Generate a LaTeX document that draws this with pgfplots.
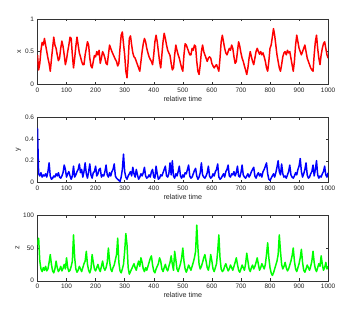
\documentclass[border=0pt]{standalone}
\usepackage{pgfplots}
\pgfplotsset{compat=1.18}
\usepackage{fontspec}
\setmainfont{Liberation Sans}
\begin{document}
\pgfplotsset{
  mstyle/.style={
    scale only axis, width=293pt, height=66pt,
    anchor=south west,
    xmin=0, xmax=1000,
    xtick={0,100,...,1000},
    tick align=inside,
    major tick length=2.5pt,
    axis line style={draw=black!80, line width=0.4pt},
    every tick/.style={draw=black!80, line width=0.4pt},
    tick label style={font=\fontsize{6.5}{7}\selectfont, text=black!85},
    label style={font=\fontsize{7.2}{8}\selectfont, text=black!85},
    /pgf/number format/assume math mode=true,
    /pgf/number format/1000 sep={},
    xlabel={relative time},
    xlabel style={yshift=3pt},
    ylabel style={yshift=-3pt},
    every axis plot/.style={line width=1.5pt, line join=round},
  }
}
\begin{tikzpicture}
\path[use as bounding box] (0,0) rectangle (345pt,313pt);
\begin{axis}[mstyle, at={(35pt,228pt)}, ymin=0, ymax=1, ytick={0,0.5,1}, ylabel={x}]
\addplot[red] table[row sep=\\, x expr=\coordindex*4, y=v] {
v\\
0.45\\0.22\\0.32\\0.52\\0.64\\0.6\\0.7\\0.6\\0.5\\0.4\\0.32\\0.2\\0.38\\0.55\\0.72\\0.6\\0.55\\0.45\\0.36\\0.4\\
0.55\\0.66\\0.58\\0.45\\0.3\\0.38\\0.5\\0.6\\0.72\\0.7\\0.45\\0.25\\0.4\\0.58\\0.72\\0.6\\0.48\\0.42\\0.35\\0.3\\
0.3\\0.45\\0.55\\0.65\\0.6\\0.4\\0.28\\0.25\\0.35\\0.44\\0.42\\0.5\\0.45\\0.52\\0.32\\0.4\\0.5\\0.46\\0.4\\0.32\\
0.3\\0.45\\0.6\\0.55\\0.5\\0.46\\0.42\\0.38\\0.35\\0.28\\0.32\\0.55\\0.75\\0.8\\0.62\\0.45\\0.2\\0.1\\0.35\\0.7\\
0.74\\0.6\\0.48\\0.42\\0.4\\0.35\\0.3\\0.25\\0.2\\0.35\\0.5\\0.62\\0.7\\0.65\\0.55\\0.48\\0.42\\0.38\\0.35\\0.3\\
0.45\\0.65\\0.75\\0.65\\0.5\\0.35\\0.25\\0.45\\0.65\\0.78\\0.7\\0.6\\0.52\\0.48\\0.44\\0.32\\0.22\\0.25\\0.45\\0.6\\
0.52\\0.45\\0.4\\0.32\\0.25\\0.2\\0.45\\0.62\\0.6\\0.55\\0.5\\0.45\\0.45\\0.55\\0.52\\0.6\\0.58\\0.35\\0.2\\0.15\\
0.3\\0.5\\0.6\\0.5\\0.45\\0.4\\0.35\\0.4\\0.42\\0.4\\0.32\\0.28\\0.25\\0.28\\0.3\\0.25\\0.2\\0.4\\0.65\\0.75\\
0.65\\0.55\\0.48\\0.45\\0.5\\0.55\\0.52\\0.6\\0.55\\0.42\\0.32\\0.35\\0.5\\0.65\\0.58\\0.48\\0.4\\0.35\\0.28\\0.22\\
0.15\\0.25\\0.4\\0.5\\0.42\\0.35\\0.3\\0.4\\0.5\\0.55\\0.5\\0.46\\0.5\\0.45\\0.48\\0.42\\0.35\\0.25\\0.2\\0.35\\
0.55\\0.6\\0.72\\0.85\\0.75\\0.6\\0.45\\0.35\\0.25\\0.2\\0.3\\0.42\\0.48\\0.5\\0.45\\0.52\\0.48\\0.5\\0.4\\0.3\\
0.2\\0.35\\0.6\\0.75\\0.65\\0.55\\0.5\\0.45\\0.5\\0.55\\0.6\\0.5\\0.4\\0.35\\0.3\\0.25\\0.22\\0.2\\0.45\\0.65\\
0.75\\0.55\\0.4\\0.3\\0.45\\0.55\\0.62\\0.65\\0.55\\0.45\\0.4\\
};
\end{axis}
\begin{axis}[mstyle, at={(35pt,129pt)}, ymin=0, ymax=0.6, ytick={0,0.2,0.4,0.6}, ylabel={y}]
\addplot[blue] table[row sep=\\, x expr=\coordindex*4, y=v] {
v\\
0.5\\0.08\\0.06\\0.09\\0.05\\0.07\\0.06\\0.08\\0.05\\0.1\\0.18\\0.06\\0.03\\0.04\\0.06\\0.05\\0.08\\0.06\\0.09\\0.05\\
0.04\\0.06\\0.09\\0.16\\0.12\\0.05\\0.08\\0.1\\0.06\\0.03\\0.06\\0.15\\0.05\\0.07\\0.1\\0.12\\0.17\\0.09\\0.12\\0.05\\
0.1\\0.18\\0.08\\0.04\\0.1\\0.17\\0.07\\0.04\\0.09\\0.1\\0.15\\0.06\\0.08\\0.12\\0.13\\0.05\\0.07\\0.06\\0.1\\0.16\\
0.07\\0.05\\0.09\\0.06\\0.1\\0.12\\0.17\\0.06\\0.04\\0.03\\0.02\\0.01\\0.05\\0.12\\0.26\\0.1\\0.05\\0.03\\0.06\\0.08\\
0.1\\0.06\\0.14\\0.08\\0.05\\0.12\\0.07\\0.03\\0.05\\0.08\\0.06\\0.09\\0.14\\0.06\\0.04\\0.05\\0.07\\0.05\\0.1\\0.12\\
0.05\\0.04\\0.15\\0.08\\0.03\\0.04\\0.07\\0.06\\0.09\\0.12\\0.15\\0.06\\0.05\\0.08\\0.18\\0.07\\0.2\\0.06\\0.04\\0.08\\
0.06\\0.1\\0.15\\0.06\\0.04\\0.07\\0.05\\0.09\\0.08\\0.12\\0.16\\0.06\\0.04\\0.05\\0.08\\0.11\\0.13\\0.06\\0.03\\0.05\\
0.09\\0.18\\0.07\\0.05\\0.04\\0.06\\0.09\\0.15\\0.06\\0.04\\0.05\\0.08\\0.06\\0.1\\0.12\\0.17\\0.05\\0.03\\0.04\\0.06\\
0.08\\0.05\\0.1\\0.12\\0.16\\0.06\\0.05\\0.08\\0.07\\0.1\\0.06\\0.09\\0.15\\0.06\\0.05\\0.09\\0.16\\0.07\\0.05\\0.04\\
0.06\\0.08\\0.05\\0.07\\0.1\\0.12\\0.14\\0.06\\0.04\\0.07\\0.09\\0.06\\0.08\\0.05\\0.1\\0.12\\0.15\\0.18\\0.08\\0.03\\
0.02\\0.04\\0.06\\0.08\\0.05\\0.09\\0.14\\0.2\\0.1\\0.07\\0.17\\0.08\\0.05\\0.06\\0.04\\0.07\\0.1\\0.16\\0.07\\0.05\\
0.04\\0.06\\0.09\\0.07\\0.12\\0.15\\0.22\\0.1\\0.05\\0.08\\0.12\\0.18\\0.07\\0.04\\0.05\\0.08\\0.1\\0.16\\0.06\\0.12\\
0.2\\0.07\\0.04\\0.06\\0.05\\0.08\\0.1\\0.15\\0.07\\0.05\\0.09\\
};
\end{axis}
\begin{axis}[mstyle, at={(35pt,30pt)}, ymin=0, ymax=100, ytick={0,50,100}, ylabel={z}]
\addplot[green] table[row sep=\\, x expr=\coordindex*4, y=v] {
v\\
55\\65\\30\\18\\14\\20\\16\\22\\15\\18\\28\\40\\25\\15\\12\\18\\30\\20\\14\\17\\
22\\15\\19\\25\\18\\35\\20\\14\\16\\22\\30\\70\\35\\18\\13\\16\\22\\18\\14\\20\\
26\\30\\45\\25\\16\\12\\18\\40\\28\\18\\15\\20\\25\\18\\14\\22\\30\\20\\16\\20\\
28\\50\\30\\18\\14\\20\\24\\32\\40\\65\\28\\15\\12\\18\\25\\45\\72\\55\\20\\10\\
14\\18\\22\\26\\20\\16\\24\\30\\22\\35\\28\\18\\14\\20\\16\\22\\28\\34\\38\\24\\
15\\12\\18\\22\\26\\35\\30\\18\\14\\20\\25\\18\\15\\22\\28\\38\\25\\16\\45\\32\\
18\\14\\20\\26\\35\\50\\30\\18\\13\\18\\24\\20\\16\\22\\28\\35\\45\\85\\50\\25\\
18\\22\\28\\35\\40\\30\\20\\16\\25\\40\\30\\18\\14\\20\\26\\45\\70\\35\\18\\14\\
16\\22\\26\\20\\15\\18\\24\\20\\16\\22\\28\\35\\25\\16\\13\\18\\24\\20\\16\\26\\
42\\30\\18\\14\\20\\24\\18\\22\\28\\35\\25\\16\\20\\26\\22\\18\\25\\40\\58\\35\\
20\\12\\8\\12\\18\\24\\30\\40\\70\\45\\25\\18\\22\\28\\20\\15\\18\\24\\30\\38\\
50\\30\\18\\14\\20\\26\\35\\48\\28\\16\\13\\18\\24\\20\\16\\22\\30\\45\\28\\18\\
14\\20\\26\\22\\38\\25\\16\\20\\28\\18\\22\\
};
\end{axis}
\end{tikzpicture}
\end{document}
